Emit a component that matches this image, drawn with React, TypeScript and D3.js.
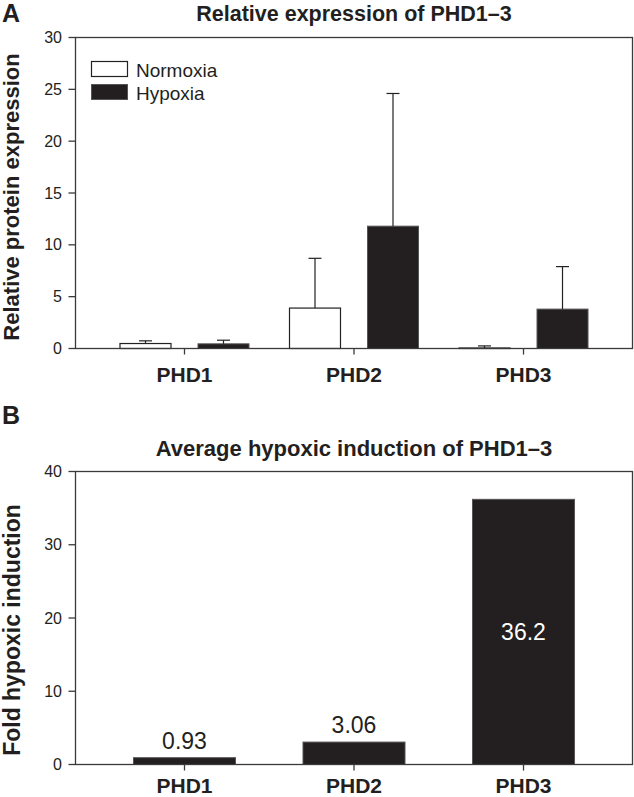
import React from "react";
import * as d3 from "d3";

const categories = ["PHD1", "PHD2", "PHD3"];
const normoxiaMean = [0.48, 3.9, 0.05];
const normoxiaErr = [0.26, 4.8, 0.2];
const hypoxiaMean = [0.45, 11.8, 3.8];
const hypoxiaErr = [0.35, 12.8, 4.1];
const yTicksA = [0, 5, 10, 15, 20, 25, 30];
const induction = [0.93, 3.06, 36.2];
const inductionLabels = ["0.93", "3.06", "36.2"];
const yTicksB = [0, 10, 20, 30, 40];

const FONT = "'Liberation Sans', Arial, Helvetica, sans-serif";
const AXIS = "#3a3a3a";
const BAR = "#231f20";

export default function App() {
  const left = 75.5;
  const right = 632.5;
  const x = d3.scalePoint<string>().domain(categories).range([left, right]).padding(0.643);

  const yA = d3.scaleLinear().domain([0, 30]).range([348.5, 37.5]);
  const yB = d3.scaleLinear().domain([0, 40]).range([764.5, 471.5]);

  const offA = 39;
  const wA = 51;
  const wB = 102;
  const cap = 6.5;

  const errBar = (cx: number, mean: number, err: number, y: d3.ScaleLinear<number, number>, key: string) => (
    <g key={key} stroke="#222" strokeWidth={1.2}>
      <line x1={cx} x2={cx} y1={y(mean)} y2={y(mean + err)} />
      <line x1={cx - cap} x2={cx + cap} y1={y(mean + err)} y2={y(mean + err)} />
    </g>
  );

  const frame = (top: number, bottom: number) => (
    <g fill="none" stroke={AXIS} strokeWidth={1.3}>
      <rect x={left} y={top} width={right - left} height={bottom - top} />
    </g>
  );

  return (
    <svg width={634} height={797} style={{ position: "absolute", left: 0, top: 0, background: "#fff" }} fontFamily={FONT}>
      {/* Panel A */}
      <text x={2} y={22} fontSize={25} fontWeight="bold" fill="#231f20">A</text>
      <text x={(left + right) / 2} y={21} textAnchor="middle" fontSize={21.5} fontWeight="bold" fill="#231f20">
        Relative expression of PHD1–3
      </text>
      <text
        transform={`translate(19,197) rotate(-90)`}
        textAnchor="middle"
        fontSize={22}
        fontWeight="bold"
        fill="#231f20"
      >
        Relative protein expression
      </text>
      {/* bars A */}
      {categories.map((c, i) => (
        <g key={"a" + c}>
          <rect x={x(c)! - offA - wA / 2} y={yA(normoxiaMean[i])} width={wA} height={yA(0) - yA(normoxiaMean[i])} fill="#fff" stroke="#222" strokeWidth={1.2} />
          <rect x={x(c)! + offA - wA / 2} y={yA(hypoxiaMean[i])} width={wA} height={yA(0) - yA(hypoxiaMean[i])} fill={BAR} stroke="#555" strokeWidth={1} />
          {errBar(x(c)! - offA, normoxiaMean[i], normoxiaErr[i], yA, "en" + c)}
          {errBar(x(c)! + offA, hypoxiaMean[i], hypoxiaErr[i], yA, "eh" + c)}
        </g>
      ))}
      {frame(yA(30), yA(0))}
      {yTicksA.map((t) => (
        <g key={"ta" + t}>
          <line x1={left - 7} x2={left} y1={yA(t)} y2={yA(t)} stroke={AXIS} strokeWidth={1.3} />
          <text x={62} y={yA(t)} dy="0.35em" textAnchor="end" fontSize={16} fill="#231f20">{t}</text>
        </g>
      ))}
      {categories.map((c) => (
        <g key={"xa" + c}>
          <line x1={x(c)} x2={x(c)} y1={yA(0)} y2={yA(0) + 6} stroke={AXIS} strokeWidth={1.3} />
          <text x={x(c)} y={382} textAnchor="middle" fontSize={21} fontWeight="bold" fill="#231f20">{c}</text>
        </g>
      ))}
      {/* legend */}
      <rect x={91.5} y={61.5} width={36} height={15} fill="#fff" stroke="#222" strokeWidth={1.2} />
      <rect x={91.5} y={84.5} width={36} height={15} fill={BAR} stroke="#555" strokeWidth={1} />
      <text x={136} y={77} fontSize={19} fill="#231f20">Normoxia</text>
      <text x={136} y={100} fontSize={19} fill="#231f20">Hypoxia</text>

      {/* Panel B */}
      <text x={2} y={424} fontSize={25} fontWeight="bold" fill="#231f20">B</text>
      <text x={(left + right) / 2} y={456} textAnchor="middle" fontSize={22} fontWeight="bold" fill="#231f20">
        Average hypoxic induction of PHD1–3
      </text>
      <text
        transform={`translate(20,630) rotate(-90)`}
        textAnchor="middle"
        fontSize={23}
        fontWeight="bold"
        fill="#231f20"
      >
        Fold hypoxic induction
      </text>
      {categories.map((c, i) => (
        <g key={"b" + c}>
          <rect x={x(c)! - wB / 2} y={yB(induction[i])} width={wB} height={yB(0) - yB(induction[i])} fill={BAR} stroke="#555" strokeWidth={1} />
          {i < 2 ? (
            <text x={x(c)} y={yB(induction[i]) - 9} textAnchor="middle" fontSize={23} fill="#231f20">{inductionLabels[i]}</text>
          ) : (
            <text x={x(c)} y={(yB(induction[i]) + yB(0)) / 2} dy="0.35em" textAnchor="middle" fontSize={23} fill="#fff">{inductionLabels[i]}</text>
          )}
        </g>
      ))}
      {frame(yB(40), yB(0))}
      {yTicksB.map((t) => (
        <g key={"tb" + t}>
          <line x1={left - 7} x2={left} y1={yB(t)} y2={yB(t)} stroke={AXIS} strokeWidth={1.3} />
          <text x={62} y={yB(t)} dy="0.35em" textAnchor="end" fontSize={16} fill="#231f20">{t}</text>
        </g>
      ))}
      {categories.map((c) => (
        <g key={"xb" + c}>
          <line x1={x(c)} x2={x(c)} y1={yB(0)} y2={yB(0) + 6} stroke={AXIS} strokeWidth={1.3} />
          <text x={x(c)} y={793} textAnchor="middle" fontSize={21} fontWeight="bold" fill="#231f20">{c}</text>
        </g>
      ))}
    </svg>
  );
}
